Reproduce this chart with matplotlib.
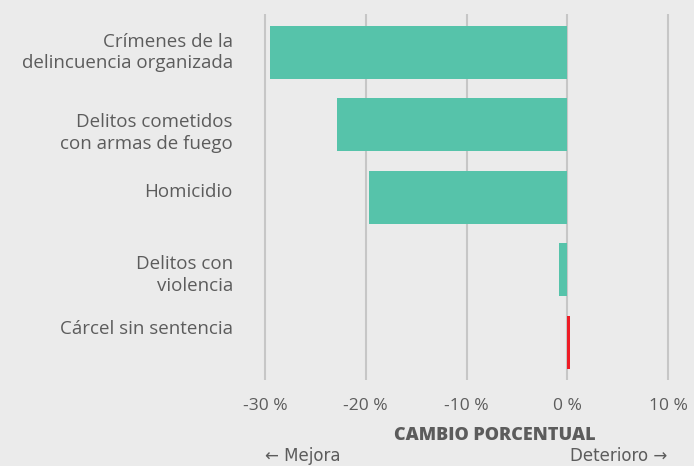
import numpy as np
import matplotlib
matplotlib.use('Agg')
import matplotlib.pyplot as plt

categories = ['Crímenes de la\ndelincuencia organizada',
              'Delitos cometidos\ncon armas de fuego',
              'Homicidio',
              'Delitos con\nviolencia',
              'Cárcel sin sentencia']
values = [-29.5, -22.9, -19.7, -0.8, 0.3]
ticks = [-30, -20, -10, 0, 10]
tick_labels = ['-30 %', '-20 %', '-10 %', '0 %', '10 %']

bg = '#ebebeb'
txt = '#5c5c5c'
colors = ['#56c3aa' if v < 0 else '#ee1c25' for v in values]
# small vertical nudges of the category labels, as in the original layout
label_shift = [0.0, 0.11, -0.08, 0.07, -0.18]

plt.rcParams['font.family'] = ['Open Sans', 'DejaVu Sans']

fig = plt.figure(figsize=(6.94, 4.66), dpi=100, facecolor=bg)
ax = fig.add_axes([260/694, 1-380/466, 413/694, 366/466], facecolor=bg)

y = np.arange(len(categories))
ax.barh(y, values, height=0.73, color=colors, zorder=3)

ax.set_xlim(-30.5, 10.5)
ax.set_ylim(len(categories) - 0.48, -0.53)
ax.set_xticks(ticks)
ax.set_xticklabels(tick_labels, fontsize=12.5, color=txt)
ax.set_yticks([])
ax.tick_params(axis='x', length=0, pad=13)
ax.grid(axis='x', color='#c6c6c6', linewidth=1.5, zorder=1)
for s in ax.spines.values():
    s.set_visible(False)

for yi, c, d in zip(y, categories, label_shift):
    ax.text(-33.2, yi + d, c, ha='right', va='center', fontsize=13.5,
            color=txt, linespacing=1.25)

fig.text(495/694, 1-435/466, 'CAMBIO PORCENTUAL', ha='center', va='center',
         fontsize=13, fontweight='heavy', color=txt)
fig.text(265/694, 1-456/466, '\u2190 Mejora', ha='left', va='center',
         fontsize=12, color=txt, family=['DejaVu Sans'])
fig.text(667/694, 1-456/466, 'Deterioro \u2192', ha='right', va='center',
         fontsize=12, color=txt, family=['DejaVu Sans'])

fig.savefig('out.png', dpi=100, facecolor=bg)
